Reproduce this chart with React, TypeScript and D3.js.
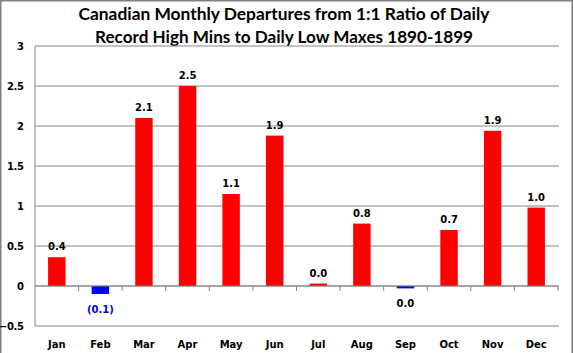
import React from "react";
import * as d3 from "d3";

const months = ["Jan","Feb","Mar","Apr","May","Jun","Jul","Aug","Sep","Oct","Nov","Dec"];
const values = [0.36, -0.1, 2.1, 2.5, 1.15, 1.88, 0.03, 0.78, -0.03, 0.7, 1.94, 0.98];
const valueLabels = ["0.4","(0.1)","2.1","2.5","1.1","1.9","0.0","0.8","0.0","0.7","1.9","1.0"];
const labelColors = ["#000","#0000ff","#000","#000","#000","#000","#000","#000","#000","#000","#000","#000"];
const yTicks = [-0.5, 0, 0.5, 1, 1.5, 2, 2.5, 3];
const titleLines = ["Canadian Monthly Departures from 1:1 Ratio of Daily", "Record High Mins to Daily Low Maxes 1890-1899"];

const W = 573, H = 353;
const left = 35, right = 558, top = 46, bottom = 326;

export default function App() {
  const x = d3.scaleBand<string>().domain(months).range([left, right]).paddingInner(0.6).paddingOuter(0.3);
  const xb = d3.scaleBand<string>().domain(months).range([left, right]).padding(0);
  const y = d3.scaleLinear().domain([-0.5, 3]).range([bottom, top]);
  const fmt = (v: number) => (v === 0 ? "0" : d3.format("")(v));
  const lab = "'DejaVu Sans', Verdana, sans-serif";
  const titleW = [411, 378];
  return (
    <svg width={W} height={H} style={{ position: "absolute", left: 0, top: 0, background: "#fff" }}>
      <path d={`M0.75,${H + 2} V0.75 H${W - 0.75} V${H + 2}`} fill="#fff" stroke="#808080" strokeWidth={1.5} />
      {titleLines.map((t, i) => (
        <text key={i} x={284} y={20 + i * 23} textAnchor="middle" fontFamily="Lato, 'Open Sans', sans-serif" fontWeight="bold" fontSize={17} textLength={titleW[i]} lengthAdjust="spacingAndGlyphs" fill="#000">{t}</text>
      ))}
      {yTicks.map((t) => (
        <g key={t}>
          <line x1={left} x2={right + 1} y1={y(t)} y2={y(t)} stroke="#868686" strokeWidth={1} />
          <text x={23.5} y={y(t) + 4} textAnchor="end" fontFamily={lab} fontWeight="bold" fontSize={10} letterSpacing={-0.4} fill="#000">{fmt(t)}</text>
        </g>
      ))}
      <line x1={left} x2={left} y1={top} y2={bottom} stroke="#868686" />
      {values.map((v, i) => {
        const m = months[i];
        const y0 = y(0), y1 = y(v);
        return (
          <rect key={m} x={x(m)} width={x.bandwidth()} y={Math.min(y0, y1)} height={Math.max(Math.abs(y1 - y0), 1)} fill={v >= 0 ? "#ff0000" : "#0000ff"} />
        );
      })}
      <line x1={left} x2={right} y1={y(0)} y2={y(0)} stroke="#868686" />
      {months.map((m) => (
        <line key={m} x1={(xb(m) as number) + xb.bandwidth()} x2={(xb(m) as number) + xb.bandwidth()} y1={y(0)} y2={y(0) + 5} stroke="#868686" />
      ))}
      {values.map((v, i) => {
        const m = months[i];
        const cx = (x(m) as number) + x.bandwidth() / 2;
        const ly = v >= 0 ? y(v) - 7 : y(v) + 19;
        return (
          <text key={m} x={cx} y={ly} textAnchor="middle" fontFamily={lab} fontWeight="bold" fontSize={10} fill={labelColors[i]}>{valueLabels[i]}</text>
        );
      })}
      {months.map((m) => (
        <text key={m} x={(xb(m) as number) + xb.bandwidth() / 2} y={348} textAnchor="middle" fontFamily={lab} fontWeight="bold" fontSize={10} fill="#000">{m}</text>
      ))}
    </svg>
  );
}
